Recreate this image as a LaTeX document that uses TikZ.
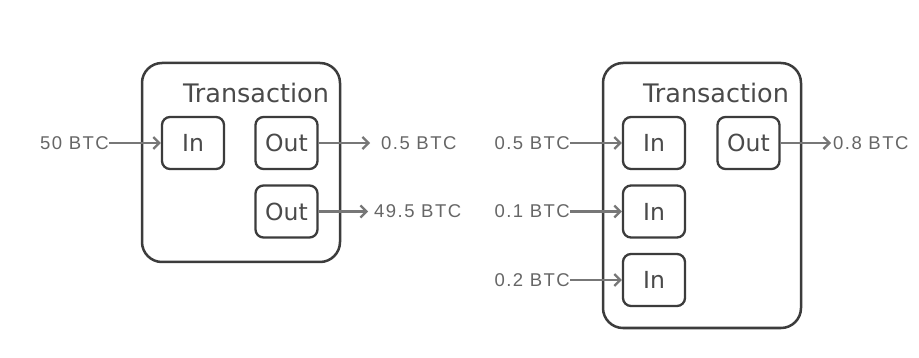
\documentclass[tikz,border=0pt]{standalone}
\usepackage{fontspec}
\setmainfont{DejaVu Sans}
\newfontfamily\labelfont[LetterSpace=8]{Liberation Sans}
\usetikzlibrary{arrows.meta}
\definecolor{boxline}{HTML}{3C3C3C}
\definecolor{titletext}{HTML}{4A4A4A}
\definecolor{valtext}{HTML}{666666}
\definecolor{flowline}{HTML}{777777}
\tikzset{
  txbox/.style={draw=boxline, line width=2.5pt, rounded corners=20pt},
  port/.style={draw=boxline, line width=2.3pt, rounded corners=8pt,
    minimum width=62pt, minimum height=52pt, inner sep=0pt,
    font=\fontsize{23.5}{26}\selectfont, text=titletext},
  title/.style={font=\fontsize{25.5}{30}\selectfont, text=titletext, inner sep=0pt},
  amount/.style={font=\labelfont\fontsize{18.5}{22}\selectfont, text=valtext, inner sep=0pt},
  flow/.style={draw=flowline, line width=2.2pt,
    -{Straight Barb[length=6pt,width=12pt,line width=2.2pt]}}
}
\begin{document}
\begin{tikzpicture}[x=1pt,y=-1pt]
\useasboundingbox (0,0) rectangle (919,358);
\fill[white] (0,0) rectangle (919,358);

% first transaction: one input, two outputs
\draw[txbox] (142,63) rectangle (340,262);
\node[title] (t1) at (256,93) {Transaction};
\node[port] (in1) at (193,143) {In};
\node[port] (out1) at (286.5,143) {Out};
\node[port] (out2) at (286.5,211.5) {Out};
\node[amount, anchor=east] (a50) at (109,143) {50 BTC};
\node[amount, anchor=west] (a05) at (381,143) {0.5 BTC};
\node[amount, anchor=west] (a495) at (374,211.5) {49.5 BTC};
\draw[flow] (a50.east) -- (in1.west);
\draw[flow] (out1.east) -- ([xshift=-11pt]a05.west);
\draw[flow] (out2.east) -- ([xshift=-6pt]a495.west);

% second transaction: three inputs, one output
\draw[txbox] (603,63) rectangle (801,328);
\node[title] (t2) at (716,93) {Transaction};
\node[port] (in2) at (654,143) {In};
\node[port] (in3) at (654,211.5) {In};
\node[port] (in4) at (654,280) {In};
\node[port] (out3) at (748.5,143) {Out};
\node[amount, anchor=east] (b05) at (570,143) {0.5 BTC};
\node[amount, anchor=east] (b01) at (570,211.5) {0.1 BTC};
\node[amount, anchor=east] (b02) at (570,280) {0.2 BTC};
\node[amount, anchor=west] (b08) at (833,143) {0.8 BTC};
\draw[flow] (b05.east) -- (in2.west);
\draw[flow] (b01.east) -- (in3.west);
\draw[flow] (b02.east) -- (in4.west);
\draw[flow] (out3.east) -- ([xshift=-2pt]b08.west);
\end{tikzpicture}
\end{document}
